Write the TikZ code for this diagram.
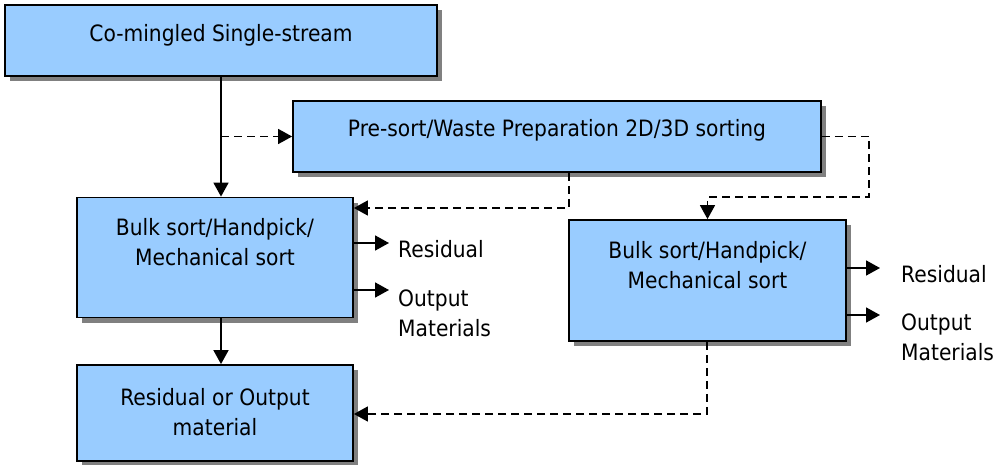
\documentclass[tikz,border=0pt]{standalone}
\usepackage{fontspec}
\setmainfont{DejaVu Sans}[FakeStretch=0.9]
\usetikzlibrary{arrows.meta,shadows}
\definecolor{boxblue}{HTML}{99CCFF}
\definecolor{shadowgray}{HTML}{808080}
\begin{document}
\begin{tikzpicture}[x=1pt,y=-1pt,
  every node/.style={font=\fontsize{22.5}{30.5}\selectfont, inner sep=0pt},
  box/.style={draw=black, line width=1.8pt, fill=boxblue,
    drop shadow={shadow xshift=5pt, shadow yshift=-5pt, opacity=1, fill=shadowgray}},
  txt/.style={align=center},
  lbl/.style={align=left},
  solidarrow/.style={line width=1.7pt, -{Triangle[length=14pt,width=15pt]}},
  dasharrow/.style={line width=1.6pt, dash pattern=on 8pt off 5pt, -{Triangle[length=14pt,width=15pt]}}]
\useasboundingbox (0,0) rectangle (995,465);

% boxes
\node[box, minimum width=432pt, minimum height=71pt] (b1) at (221,40.5) {};
\node[box, minimum width=528pt, minimum height=71pt] (b2) at (557,136.5) {};
\node[box, minimum width=276pt, minimum height=120pt] (b3) at (215,257.5) {};
\node[box, minimum width=276pt, minimum height=96pt] (b4) at (215,413) {};
\node[box, minimum width=277pt, minimum height=121pt] (b5) at (707.5,280.5) {};

% box texts
\node[anchor=base] (t1) at (221,42) {Co-mingled Single-stream};
\node[anchor=base] (t2) at (557,137) {Pre-sort/Waste Preparation 2D/3D sorting};
\node[txt] (t3) at (215,242) {Bulk sort/Handpick/\\Mechanical sort};
\node[txt] (t4) at (215,412) {Residual or Output\\material};
\node[txt] (t5) at (707.5,265) {Bulk sort/Handpick/\\Mechanical sort};

% side labels
\node[anchor=base west] (r1) at (398,257) {Residual};
\node[lbl, anchor=west] (o1) at (398,313.5) {Output\\Materials};
\node[anchor=base west] (r2) at (901,282) {Residual};
\node[lbl, anchor=west] (o2) at (901,337.5) {Output\\Materials};

% helper coordinates
\coordinate (a1) at (389,243);
\coordinate (a2) at (389,290);
\coordinate (a3) at (880,268);
\coordinate (a4) at (880,315);
\coordinate (k1) at (569,208);
\coordinate (k2) at (869,197);
\coordinate (k3) at (707,414);

% connectors
\draw[solidarrow] (b1.south) -- (b3.north -| b1.south);
\draw[solidarrow] (b3.south -| b1.south) -- (b4.north -| b1.south);
\draw[dasharrow] (b1.south |- b2.west) -- (b2.west);
\draw[dasharrow] (b2.south -| k1) -- (k1) -- (b3.east |- k1);
\draw[dasharrow] (b2.east) -| (k2) -| (b5.north);
\draw[dasharrow] (b5.south -| k3) -- (k3) -- (b4.east |- k3);

\draw[solidarrow] (b3.east |- a1) -- (a1);
\draw[solidarrow] (b3.east |- a2) -- (a2);
\draw[solidarrow] (b5.east |- a3) -- (a3);
\draw[solidarrow] (b5.east |- a4) -- (a4);
\end{tikzpicture}
\end{document}
